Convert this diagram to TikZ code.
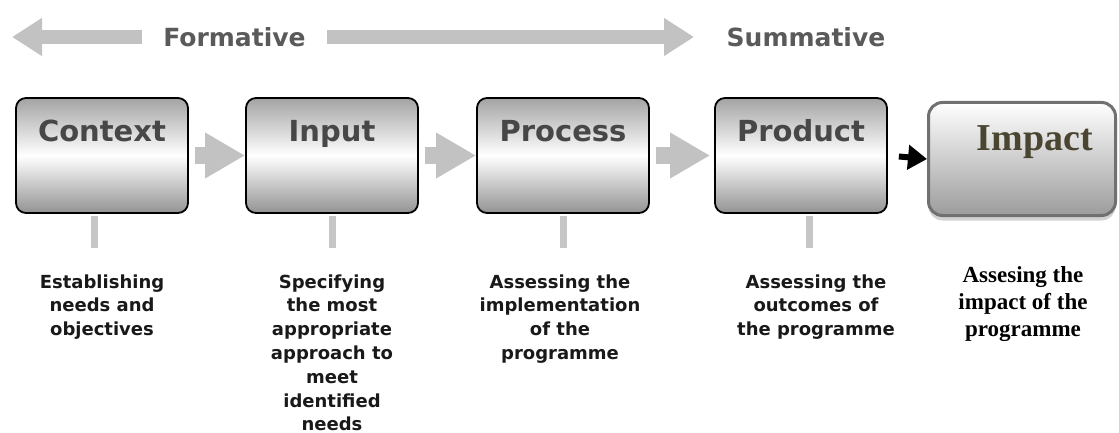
\documentclass[tikz,border=0pt]{standalone}
\usepackage{fontspec}
\setmainfont{DejaVu Sans}
\newfontfamily\timesfont{Liberation Serif}
\usepackage{tikz}
\usetikzlibrary{arrows.meta}
\usetikzlibrary{positioning}
\usetikzlibrary{shadows}
\definecolor{ribbongray}{HTML}{C2C2C2}
\definecolor{titlegray}{HTML}{474747}
\definecolor{phasegray}{HTML}{5A5A5A}
\definecolor{impactolive}{HTML}{4A4531}
\definecolor{impactrim}{HTML}{707070}
\tikzset{stage/.style = {draw = black, line width = 1.8pt, rounded corners = 10pt,
                         minimum width = 172pt, inner sep = 0pt,
                         text height = 44pt, text depth = 71pt,
                         top color = gray!72, bottom color = gray!85, middle color = white,
                         text = titlegray, font = \bfseries\fontsize{29}{30}\selectfont}}
\tikzset{impactbox/.style = {draw = impactrim, line width = 3pt, rounded corners = 14pt,
                             minimum width = 187pt, minimum height = 113pt,
                             top color = white, bottom color = gray!78,
                             drop shadow = {shadow xshift = 0pt, shadow yshift = -5pt,
                                            fill = gray!35, opacity = 1}}}
\tikzset{phase/.style = {inner xsep = 21pt, inner ysep = 0pt, text = phasegray,
                         font = \bfseries\fontsize{25}{26}\selectfont}}
\tikzset{ribbon/.style = {draw = ribbongray, line width = 14pt,
                          -{Triangle[length = 30pt, width = 36pt]}}}
\tikzset{flow/.style = {draw = ribbongray, line width = 16pt, shorten <= 6pt,
                        -{Triangle[length = 40pt, width = 43pt]}}}
\tikzset{link/.style = {draw = black, line width = 6pt, shorten <= 11pt,
                        -{Triangle[length = 19pt, width = 24pt]}}}
\tikzset{stem/.style = {draw = gray!45, line width = 7pt, shorten <= 2pt}}
\tikzset{note/.style = {align = center, inner sep = 0pt, anchor = base, text = black!90,
                        font = \bfseries\fontsize{18}{23.8}\selectfont}}
\tikzset{impactnote/.style = {align = center, inner sep = 0pt, anchor = base, text = black,
                              font = \timesfont\bfseries\fontsize{23}{27}\selectfont}}

\begin{document}
\begin{tikzpicture}[x = 1pt, y = -1pt]
        \useasboundingbox (0, 0) rectangle (1119, 433);

        % formative / summative ribbon
        \node [phase] (formative) at (234.5, 37) {Formative};
        \node [phase] (summative) at (806, 37) {Summative};
        \coordinate (lefttip) at (12, 37);
        \coordinate (righttip) at (694, 37);
        \draw [ribbon] (formative.west) -- (lefttip);
        \draw [ribbon] (formative.east) -- (righttip);

        % the four stages and impact
        \node [stage] (context) at (102, 155.5) {Context};
        \node [stage] (input) at (332, 155.5) {Input};
        \node [stage] (process) at (563, 155.5) {Process};
        \node [stage] (product) at (801, 155.5) {Product};
        \node [impactbox] (impact) at (1022, 159) {};
        \node [anchor = base, text = impactolive, font = \timesfont\bfseries\fontsize{38}{40}\selectfont]
              (impacttitle) at (1035, 150) {Impact};

        \draw [flow] (context.east) -- (input.west);
        \draw [flow] (input.east) -- (process.west);
        \draw [flow, shorten >= 4pt] (process.east) -- (product.west);
        \draw [link] (product.east) -- (impact.west);

        % stems down to the notes
        \coordinate (contextfoot) at (94, 248);
        \coordinate (inputfoot) at (332, 248);
        \coordinate (processfoot) at (563, 248);
        \coordinate (productfoot) at (809, 248);
        \draw [stem] (context.south -| contextfoot) -- (contextfoot);
        \draw [stem] (input.south -| inputfoot) -- (inputfoot);
        \draw [stem] (process.south -| processfoot) -- (processfoot);
        \draw [stem] (product.south -| productfoot) -- (productfoot);

        % notes (base = last line)
        \node [note] (contextnote) at (102, 335.6) {Establishing\\needs and\\objectives};
        \node [note] (inputnote) at (332, 430.8) {Specifying\\the most\\appropriate\\approach to\\meet\\identified\\needs};
        \node [note] (processnote) at (560, 359.4) {Assessing the\\implementation\\of the\\programme};
        \node [note] (productnote) at (816, 335.6) {Assessing the\\outcomes of\\the programme};
        \node [impactnote] (impactnote) at (1023, 336) {Assesing the\\impact of the\\programme};
\end{tikzpicture}
\end{document}
